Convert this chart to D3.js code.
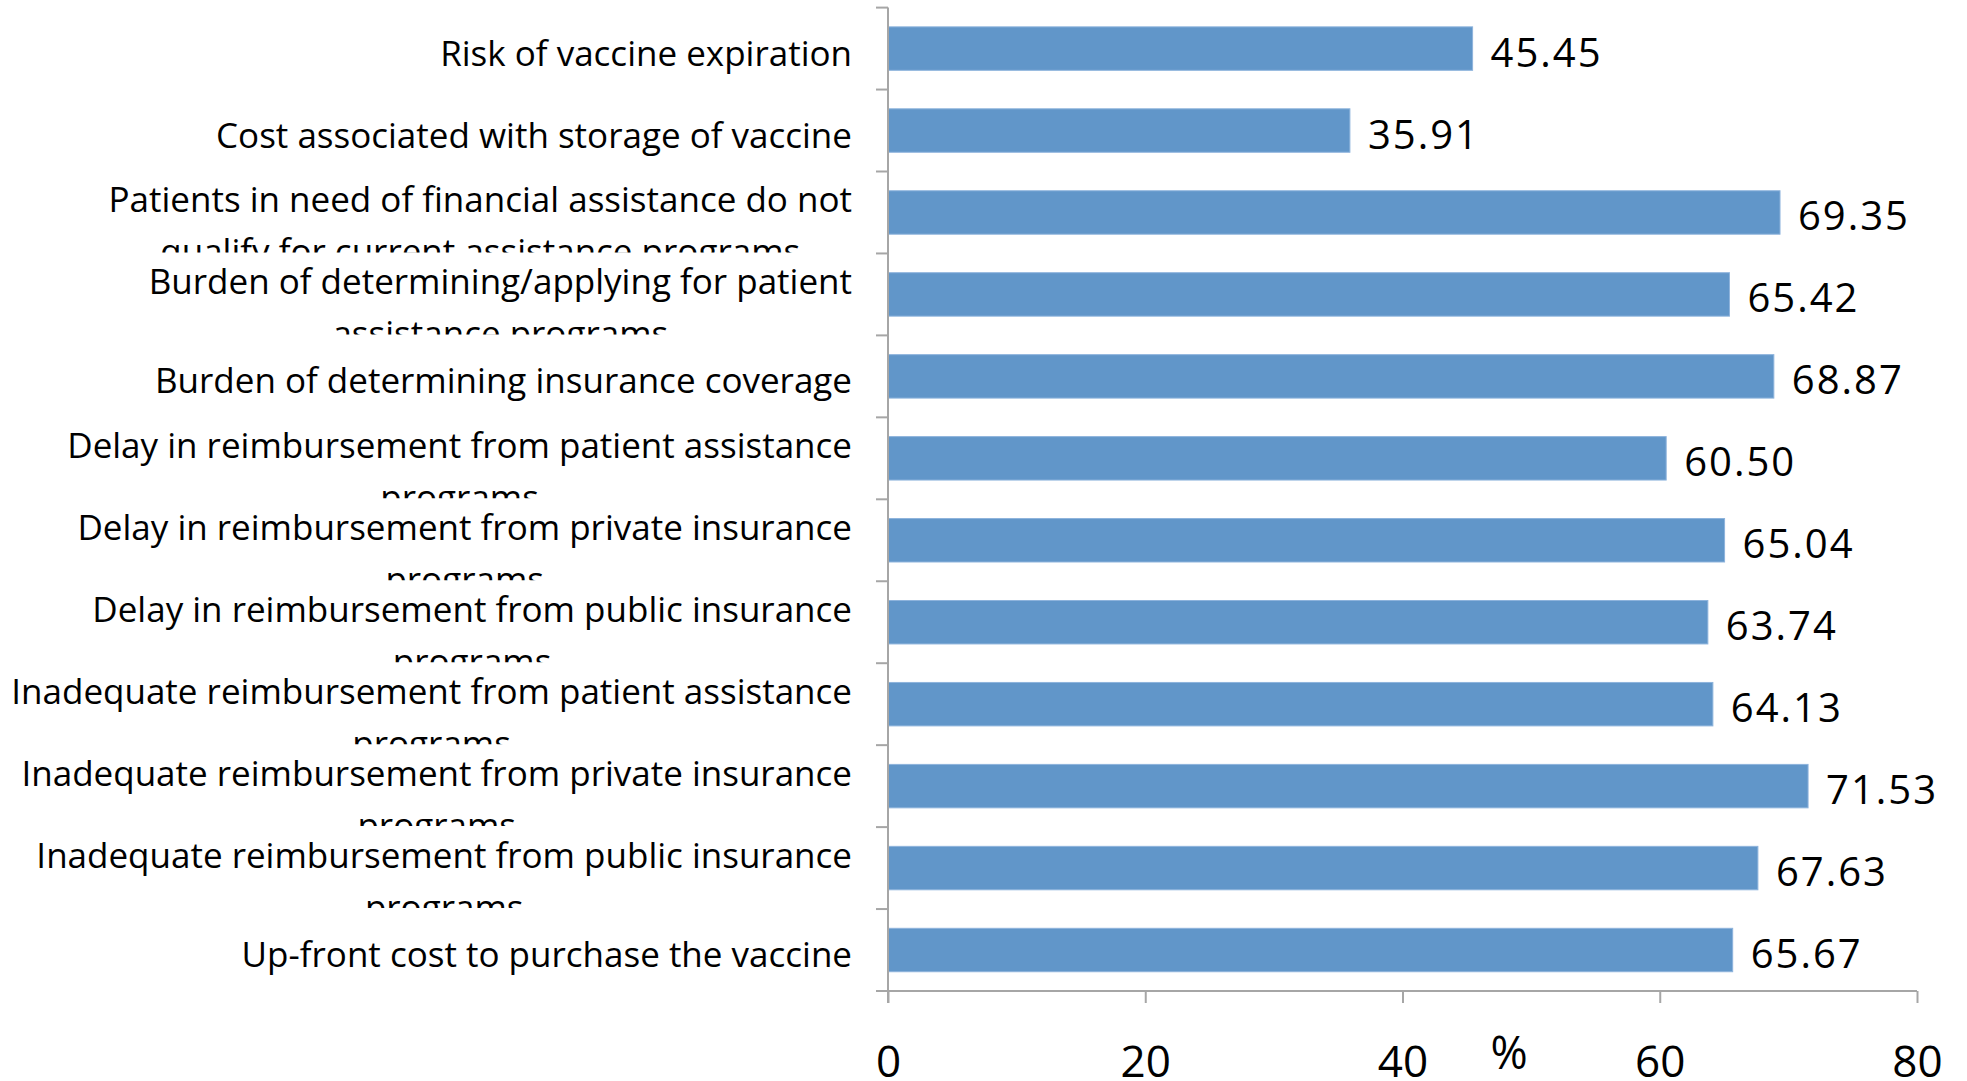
<!DOCTYPE html>
<html>
<head>
<meta charset="utf-8">
<script src="https://cdn.jsdelivr.net/npm/d3@7"></script>
<style>
  body { margin: 0; background: #fff; }
  text { font-family: "Open Sans", sans-serif; fill: #000; }
</style>
</head>
<body>
<div class="chart"></div>
<script>
// category labels, top to bottom (second line gets clipped like in the original)
var categories = [
  ["Risk of vaccine expiration"],
  ["Cost associated with storage of vaccine"],
  ["Patients in need of financial assistance do not", "qualify for current assistance programs"],
  ["Burden of determining/applying for patient", "assistance programs"],
  ["Burden of determining insurance coverage"],
  ["Delay in reimbursement from patient assistance", "programs"],
  ["Delay in reimbursement from private insurance", "programs"],
  ["Delay in reimbursement from public insurance", "programs"],
  ["Inadequate reimbursement from patient assistance", "programs"],
  ["Inadequate reimbursement from private insurance", "programs"],
  ["Inadequate reimbursement from public insurance", "programs"],
  ["Up-front cost to purchase the vaccine"]
];
var values = [45.45, 35.91, 69.35, 65.42, 68.87, 60.50, 65.04, 63.74, 64.13, 71.53, 67.63, 65.67];
var xTicks = [0, 20, 40, 60, 80];
var xTitle = "%";

var svgWidth = 1967;
var svgHeight = 1081;

// plot area (note: "top" is reserved on window, so use plot* names)
var plotLeft = 888, plotRight = 1917, plotTop = 7.6, plotBottom = 991;
var labelScaleX = 1.0;

var svg = d3.select(".chart")
  .append("svg")
  .attr("width", svgWidth)
  .attr("height", svgHeight);

var data = values.map(function(v, i) { return { value: v, lines: categories[i], idx: i }; });

var xScale = d3.scaleLinear()
  .domain([0, 80])
  .range([plotLeft, plotRight]);

var yScale = d3.scaleBand()
  .domain(d3.range(categories.length))
  .range([plotTop, plotBottom])
  .paddingInner(0.47)
  .paddingOuter(0.235);

var step = yScale.step();

// bars
svg.selectAll("rect.bar")
  .data(data)
  .enter()
  .append("rect")
  .attr("class", "bar")
  .attr("x", xScale(0))
  .attr("y", d => yScale(d.idx))
  .attr("width", d => xScale(d.value) - xScale(0))
  .attr("height", yScale.bandwidth())
  .attr("fill", "#6196c9")
  .attr("stroke", "#8db3dc")
  .attr("stroke-width", 1);

// value labels
svg.selectAll("text.val")
  .data(data)
  .enter()
  .append("text")
  .attr("class", "val")
  .attr("x", d => xScale(d.value) + 18)
  .attr("y", d => yScale(d.idx) + yScale.bandwidth() / 2 + 18)
  .style("font-size", "40px")
  .style("letter-spacing", "2px")
  .text(d => d3.format(".2f")(d.value));

// axes
var axisColor = "#a6a6a6";
var bandEdges = d3.range(categories.length + 1).map(i => plotTop + i * step);

var yAxis = svg.append("g");
yAxis.append("line")
  .attr("x1", plotLeft).attr("x2", plotLeft)
  .attr("y1", plotTop).attr("y2", plotBottom + 12)
  .attr("stroke", axisColor).attr("stroke-width", 2);
yAxis.selectAll("line.tick")
  .data(bandEdges)
  .enter()
  .append("line")
  .attr("class", "tick")
  .attr("x1", plotLeft - 12).attr("x2", plotLeft)
  .attr("y1", d => d).attr("y2", d => d)
  .attr("stroke", axisColor).attr("stroke-width", 2);

var xAxis = d3.axisBottom(xScale)
  .tickValues(xTicks)
  .tickSize(12)
  .tickSizeOuter(0)
  .tickPadding(0);

var xg = svg.append("g")
  .attr("transform", `translate(0, ${plotBottom})`)
  .call(xAxis);
xg.select(".domain")
  .attr("d", `M${plotLeft - 12},0H${plotRight}`)
  .attr("stroke", axisColor).attr("stroke-width", 2);
xg.selectAll(".tick line").attr("stroke", axisColor).attr("stroke-width", 2);
xg.selectAll(".tick text")
  .attr("y", 86)
  .attr("dy", null)
  .style("font-size", "44px")
  .style("font-family", "'Open Sans', sans-serif")
  .attr("fill", "#000");

svg.append("text")
  .attr("x", 1509)
  .attr("y", 1069)
  .attr("text-anchor", "middle")
  .style("font-size", "45px")
  .text(xTitle);

// category labels with clipping per band
var defs = svg.append("defs");
data.forEach(function(d) {
  var y0 = plotTop + d.idx * step;
  defs.append("clipPath")
    .attr("id", "clip" + d.idx)
    .append("rect")
    .attr("x", 0).attr("y", y0)
    .attr("width", plotLeft - 10).attr("height", step - 1);

  var cy = y0 + step / 2;
  var g = svg.append("g").attr("clip-path", `url(#clip${d.idx})`);
  var inner = g.append("g");
  var baseY = d.lines.length > 1 ? cy : cy + 17;
  inner.attr("transform", `translate(852, ${baseY}) scale(${labelScaleX}, 1)`);
  var first = inner.append("text")
    .attr("text-anchor", "end")
    .style("font-size", "35px")
    .text(d.lines[0]);
  if (d.lines.length > 1) {
    var w = first.node().getComputedTextLength();
    inner.append("text")
      .attr("x", -w / 2)
      .attr("y", 52)
      .attr("text-anchor", "middle")
      .style("font-size", "35px")
      .text(d.lines[1]);
  }
});
</script>
</body>
</html>
